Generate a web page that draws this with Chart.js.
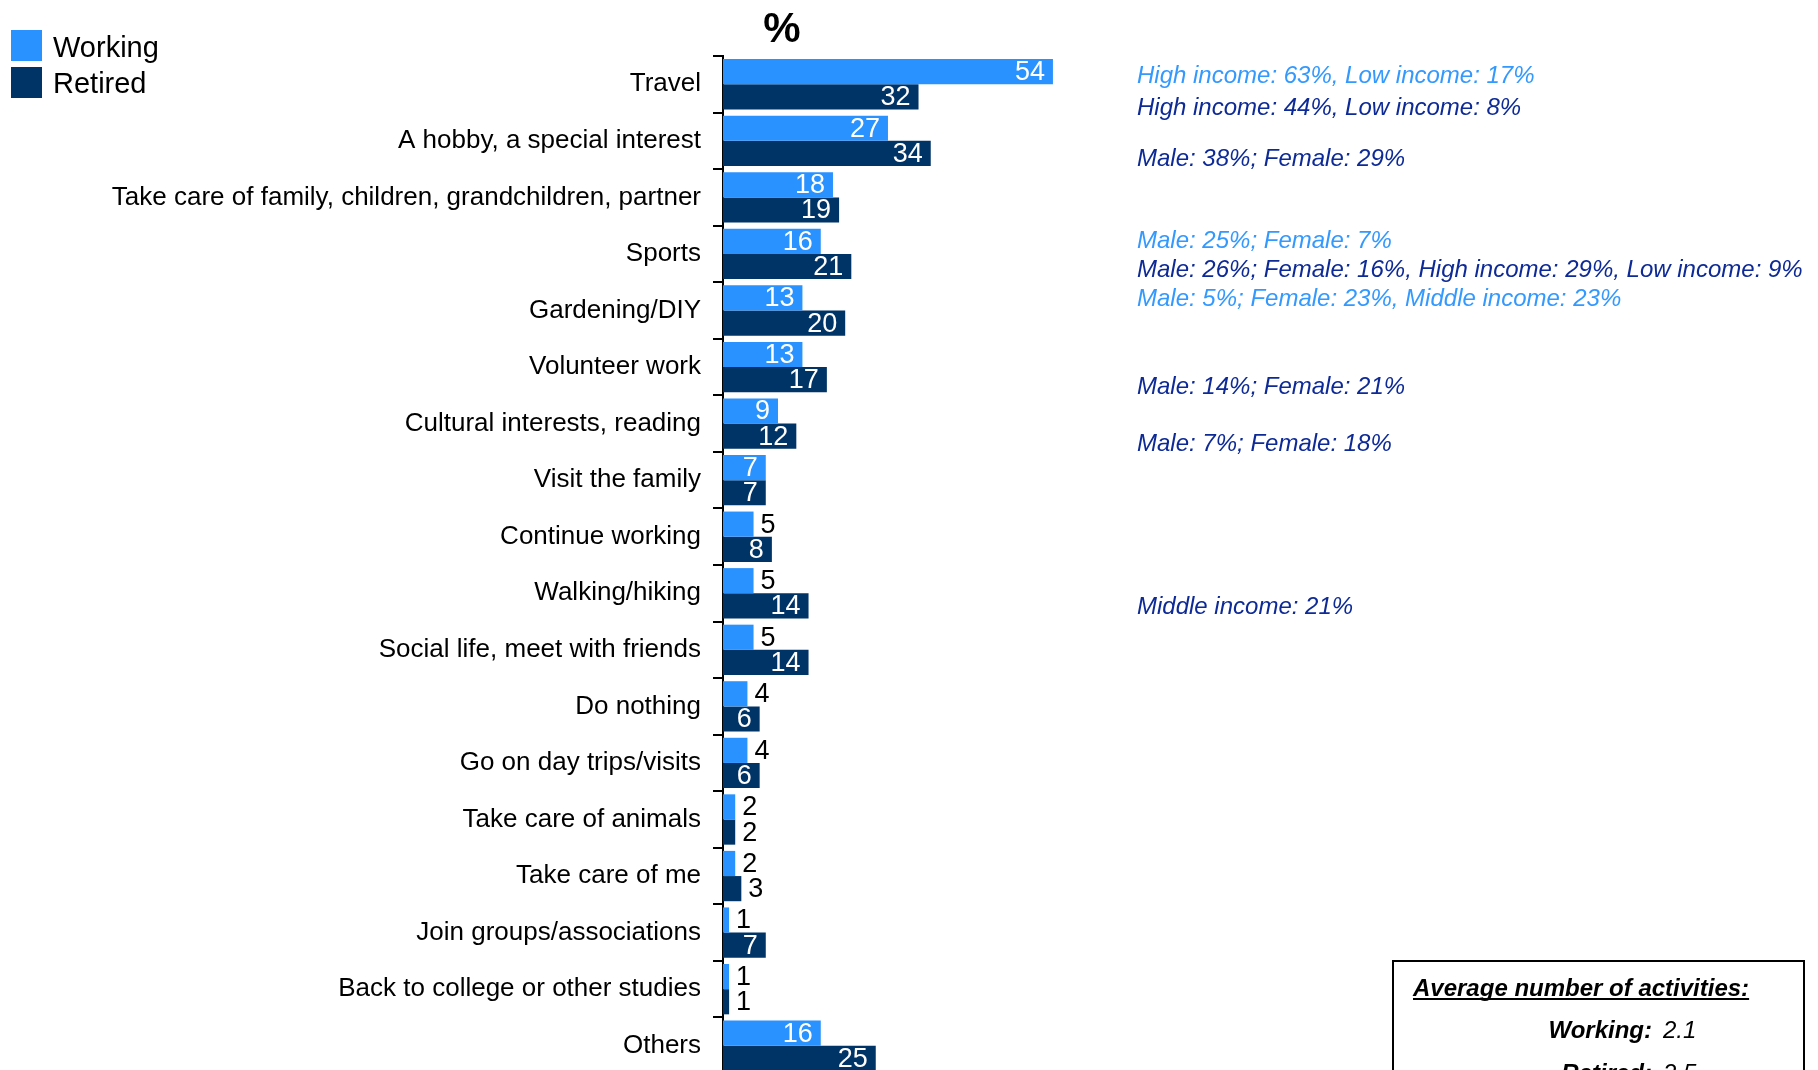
<!DOCTYPE html>
<html>
<head>
<meta charset="utf-8">
<title>Activities planned for retirement</title>
<script src="https://cdn.jsdelivr.net/npm/chart.js@4.4.1/dist/chart.umd.min.js"></script>
<style>
    html, body { margin: 0; padding: 0; background: #fff; overflow: hidden; }
    canvas { display: block; }
</style>
</head>
<body>
<!-- a little taller than the window: the last row is cut off at the bottom edge, as in the original -->
<canvas id="activitiesChart" width="1818" height="1074"></canvas>
<script>
// Values (%)
const categories = [
    'Travel',
    'A hobby, a special interest',
    'Take care of family, children, grandchildren, partner',
    'Sports',
    'Gardening/DIY',
    'Volunteer work',
    'Cultural interests, reading',
    'Visit the family',
    'Continue working',
    'Walking/hiking',
    'Social life, meet with friends',
    'Do nothing',
    'Go on day trips/visits',
    'Take care of animals',
    'Take care of me',
    'Join groups/associations',
    'Back to college or other studies',
    'Others'
];
const workingValues = [54, 27, 18, 16, 13, 13, 9, 7, 5, 5, 5, 4, 4, 2, 2, 1, 1, 16];
const retiredValues = [32, 34, 19, 21, 20, 17, 12, 7, 8, 14, 14, 6, 6, 2, 3, 7, 1, 25];
const seriesNames = ['Working', 'Retired'];
const chartTitle = '%';

// Side notes: text, the category they belong to and which series
const noteTexts = [
    'High income: 63%, Low income: 17%',
    'High income: 44%, Low income: 8%',
    'Male: 38%; Female: 29%',
    'Male: 25%; Female: 7%',
    'Male: 26%; Female: 16%, High income: 29%, Low income: 9%',
    'Male: 5%; Female: 23%, Middle income: 23%',
    'Male: 14%; Female: 21%',
    'Male: 7%; Female: 18%',
    'Middle income: 21%'
];
const noteCategory = [0, 0, 1, 3, 3, 4, 5, 6, 9];
const noteSeries = ['working', 'retired', 'retired', 'working', 'retired', 'working', 'retired', 'retired', 'retired'];

const avgTitle = 'Average number of activities:';
const avgLabels = ['Working:', 'Retired:'];
const avgValues = ['2.1', '2.5'];

// layout / style
const FONT = "'Liberation Sans', Arial, Helvetica, sans-serif";
const WORKING_COLOR = '#2992ff';
const RETIRED_COLOR = '#003366';
const NOTE_LIGHT = '#3399ff';
const NOTE_DARK = '#0d2a96';
const noteDy = [-10, 22.5, 17, -14.4, 14.6, -12.7, 18, 18.4, 12]; // offset from category centre

// Value labels: white inside the bar end, black just outside for short bars
const valueLabels = {
    id: 'valueLabels',
    afterDatasetsDraw(chart) {
        const ctx = chart.ctx;
        ctx.save();
        ctx.font = '27px ' + FONT;
        ctx.textBaseline = 'middle';
        chart.data.datasets.forEach((ds, i) => {
            const meta = chart.getDatasetMeta(i);
            meta.data.forEach((bar, j) => {
                const v = ds.data[j];
                if (v >= 6) {
                    ctx.fillStyle = '#fff';
                    ctx.textAlign = 'right';
                    ctx.fillText(String(v), bar.x - 8, bar.y + 1);
                } else {
                    ctx.fillStyle = '#000';
                    ctx.textAlign = 'left';
                    ctx.fillText(String(v), bar.x + 7, bar.y + 1);
                }
            });
        });
        ctx.restore();
    }
};

// Title, legend, side notes and the average box
const extras = {
    id: 'extras',
    afterDraw(chart) {
        const ctx = chart.ctx;
        const yScale = chart.scales.y;
        ctx.save();

        // "%" title
        ctx.fillStyle = '#000';
        ctx.font = 'bold 42px ' + FONT;
        ctx.textAlign = 'center';
        ctx.textBaseline = 'alphabetic';
        ctx.fillText(chartTitle, 782, 42);

        // legend
        const colors = [WORKING_COLOR, RETIRED_COLOR];
        ctx.font = '29px ' + FONT;
        ctx.textAlign = 'left';
        seriesNames.forEach((name, i) => {
            ctx.fillStyle = colors[i];
            ctx.fillRect(11, 30 + i * 37, 31, 31);
            ctx.fillStyle = '#000';
            ctx.fillText(name, 53, 57 + i * 36);
        });

        // notes on the right
        ctx.font = 'italic 24px ' + FONT;
        noteTexts.forEach((txt, i) => {
            const cy = yScale.getPixelForValue(noteCategory[i]) + noteDy[i];
            ctx.fillStyle = noteSeries[i] === 'working' ? NOTE_LIGHT : NOTE_DARK;
            ctx.fillText(txt, 1137, cy + 8.5);
        });

        // average box
        ctx.strokeStyle = '#000';
        ctx.lineWidth = 2;
        ctx.strokeRect(1393, 961, 411, 200);

        ctx.fillStyle = '#000';
        ctx.font = 'bold italic 24px ' + FONT;
        ctx.fillText(avgTitle, 1413, 996);
        const w = ctx.measureText(avgTitle).width;
        ctx.fillRect(1413, 998, w, 2);

        avgLabels.forEach((lab, i) => {
            const y = 1038 + i * 43;
            ctx.font = 'bold italic 24px ' + FONT;
            ctx.textAlign = 'right';
            ctx.fillText(lab, 1652, y);
            ctx.font = 'italic 24px ' + FONT;
            ctx.textAlign = 'left';
            ctx.fillText(avgValues[i], 1663, y);
        });

        ctx.restore();
    }
};

document.addEventListener('DOMContentLoaded', function() {
    const ctx = document.getElementById('activitiesChart').getContext('2d');

    new Chart(ctx, {
        type: 'bar',
        data: {
            labels: categories,
            datasets: [{
                label: seriesNames[0],
                data: workingValues,
                backgroundColor: WORKING_COLOR,
                borderWidth: 0
            }, {
                label: seriesNames[1],
                data: retiredValues,
                backgroundColor: RETIRED_COLOR,
                borderWidth: 0
            }]
        },
        options: {
            indexAxis: 'y',
            responsive: false,
            maintainAspectRatio: false,
            devicePixelRatio: 1,
            animation: false,
            categoryPercentage: 0.89,
            barPercentage: 1.0,
            layout: {
                padding: { top: 56, right: 484, bottom: 0, left: 0 }
            },
            plugins: {
                legend: { display: false },
                tooltip: { enabled: false }
            },
            scales: {
                x: {
                    display: false,
                    min: 0,
                    max: 100
                },
                y: {
                    offset: true,
                    border: { display: true, color: '#000', width: 2 },
                    grid: {
                        offset: true,
                        drawOnChartArea: false,
                        drawTicks: true,
                        tickLength: 10,
                        color: '#000',
                        lineWidth: 2
                    },
                    ticks: {
                        autoSkip: false,
                        padding: 12,
                        color: '#000',
                        font: { family: FONT, size: 26 }
                    },
                    afterFit: function(scale) {
                        scale.width = 723;
                        scale.paddingTop = 0;
                        scale.paddingBottom = 0;
                    }
                }
            }
        },
        plugins: [valueLabels, extras]
    });
});
</script>
</body>
</html>
